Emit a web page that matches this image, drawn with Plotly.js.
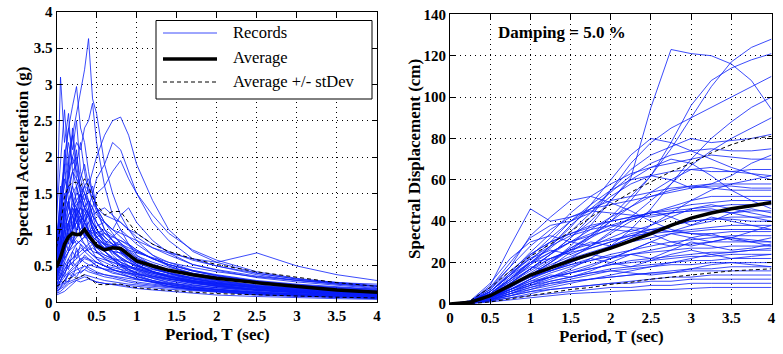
<!DOCTYPE html>
<html>
<head>
<meta charset="utf-8">
<script src="https://cdn.plot.ly/plotly-3.0.1.min.js"></script>
<style>html,body{margin:0;padding:0;background:#fff;}#chart{width:783px;height:354px;}</style>
</head>
<body>
<div id="chart"></div>
<script>
// ---------- DATA ----------
const saPeriods = [0,0.05,0.1,0.15,0.2,0.25,0.3,0.35,0.4,0.45,0.5,0.6,0.7,0.8,0.9,1.0,1.2,1.4,1.7,2.0,2.5,3.0,3.5,4.0];
const saRecords = [
[0.9,1.3,1.6,2.0,2.3,2.6,2.9,3.2,3.63,2.8,2.6,1.9,1.5,1.2,1.0,0.85,0.65,0.5,0.38,0.3,0.22,0.17,0.13,0.1],
[1.0,3.1,2.2,2.6,1.8,1.9,1.5,1.3,1.2,1.0,0.9,0.7,0.6,0.5,0.42,0.36,0.28,0.22,0.17,0.14,0.1,0.08,0.06,0.05],
[0.8,1.2,2.0,2.4,2.7,2.97,2.4,2.2,1.8,1.5,1.3,1.0,0.85,0.7,0.6,0.52,0.42,0.35,0.28,0.22,0.16,0.13,0.1,0.08],
[0.6,0.8,1.0,1.1,1.3,1.4,1.5,1.4,1.6,1.8,2.0,2.3,2.5,2.55,2.3,1.9,1.4,1.0,0.7,0.55,0.4,0.32,0.26,0.22],
[0.5,0.6,0.8,1.0,1.1,1.2,1.3,1.2,1.3,1.5,1.7,1.9,2.2,2.1,1.8,1.5,1.1,0.85,0.6,0.5,0.38,0.3,0.25,0.2],
[0.4,0.5,0.7,0.9,1.0,1.1,1.0,1.1,1.2,1.3,1.5,1.6,1.8,1.95,1.7,1.5,1.2,0.95,0.72,0.58,0.42,0.33,0.27,0.22],
[0.7,1.0,1.4,1.8,2.0,2.2,2.1,2.4,2.5,2.74,2.2,1.6,1.2,1.0,0.8,0.65,0.5,0.4,0.3,0.24,0.17,0.13,0.1,0.08],
[1.2,2.0,2.65,1.9,2.3,1.7,1.6,1.4,1.2,1.1,1.0,0.8,0.65,0.55,0.45,0.38,0.3,0.24,0.18,0.15,0.11,0.09,0.07,0.05],
[0.6,1.5,1.9,2.4,2.1,2.5,1.8,1.6,1.4,1.2,1.1,0.9,0.8,0.75,0.7,0.6,0.48,0.4,0.32,0.27,0.2,0.16,0.13,0.1],
[0.5,0.7,0.9,1.1,1.2,1.3,1.2,1.3,1.4,1.3,1.2,1.1,1.0,0.95,0.9,0.85,0.75,0.68,0.6,0.55,0.68,0.5,0.38,0.3],
[0.45,0.8,1.2,1.4,1.5,1.6,1.7,1.5,1.4,1.3,1.1,0.95,0.85,0.78,0.72,0.68,0.62,0.55,0.48,0.42,0.35,0.3,0.27,0.25],
[0.35,0.5,0.8,1.0,1.2,1.3,1.5,1.6,1.55,1.4,1.3,1.2,1.15,1.1,1.0,0.9,0.75,0.65,0.52,0.45,0.36,0.3,0.25,0.22],
[0.7,1.1,1.7,1.5,1.8,1.6,1.4,1.5,1.3,1.1,1.0,0.85,0.7,0.6,0.5,0.44,0.36,0.3,0.24,0.2,0.15,0.12,0.1,0.08],
[0.3,0.45,0.6,0.7,0.8,0.9,0.95,1.0,1.1,1.2,1.25,1.3,1.2,1.1,1.0,0.95,0.8,0.7,0.58,0.5,0.4,0.32,0.27,0.23],
[0.55,0.9,1.3,1.6,1.4,1.3,1.2,1.1,1.0,0.95,0.9,0.8,0.7,0.62,0.55,0.5,0.42,0.36,0.3,0.26,0.2,0.16,0.13,0.11],
[0.4,0.6,0.8,0.9,1.0,1.1,1.2,1.1,1.0,0.9,0.85,0.75,0.7,0.68,0.64,0.6,0.52,0.45,0.38,0.33,0.26,0.22,0.18,0.15],
[0.25,0.35,0.5,0.6,0.7,0.8,0.85,0.9,0.95,0.9,0.85,0.8,0.78,0.8,0.75,0.7,0.6,0.52,0.44,0.38,0.3,0.25,0.21,0.18],
[0.3,0.5,0.7,0.85,0.9,0.8,0.85,0.8,0.7,0.65,0.6,0.55,0.5,0.48,0.45,0.42,0.36,0.32,0.26,0.22,0.17,0.14,0.12,0.1],
[0.2,0.3,0.45,0.55,0.6,0.7,0.75,0.7,0.65,0.6,0.55,0.5,0.45,0.42,0.4,0.38,0.33,0.29,0.24,0.2,0.16,0.13,0.11,0.09],
[0.15,0.2,0.25,0.3,0.35,0.4,0.42,0.45,0.5,0.52,0.55,0.5,0.45,0.42,0.38,0.35,0.3,0.26,0.21,0.18,0.14,0.11,0.09,0.07],
[0.1,0.12,0.15,0.2,0.25,0.3,0.28,0.3,0.32,0.3,0.28,0.26,0.24,0.22,0.2,0.19,0.17,0.15,0.12,0.1,0.08,0.06,0.05,0.04],
[0.2,0.25,0.3,0.4,0.45,0.5,0.55,0.6,0.58,0.55,0.5,0.45,0.42,0.38,0.35,0.32,0.28,0.24,0.2,0.17,0.13,0.11,0.09,0.08],
[0.6,0.9,1.1,1.3,1.2,1.0,1.1,0.9,0.85,0.8,0.75,0.65,0.6,0.55,0.5,0.46,0.4,0.35,0.29,0.25,0.19,0.15,0.12,0.1],
[0.35,0.5,0.65,0.75,0.85,0.95,0.9,0.8,0.75,0.7,0.68,0.62,0.58,0.52,0.48,0.44,0.38,0.33,0.27,0.23,0.18,0.14,0.12,0.1],
[0.45,0.7,1.0,1.2,1.3,1.1,1.0,0.95,0.9,0.8,0.7,0.6,0.52,0.45,0.4,0.36,0.3,0.25,0.2,0.17,0.13,0.1,0.08,0.07],
[0.25,0.3,0.4,0.5,0.55,0.6,0.65,0.7,0.72,0.75,0.7,0.65,0.6,0.58,0.55,0.5,0.45,0.4,0.34,0.3,0.24,0.2,0.17,0.15],
[0.15,0.18,0.22,0.28,0.3,0.32,0.35,0.38,0.36,0.35,0.33,0.3,0.28,0.26,0.25,0.24,0.22,0.2,0.17,0.15,0.12,0.1,0.08,0.07],
[0.8,1.2,1.5,1.3,1.6,1.4,1.2,1.0,0.95,0.85,0.8,0.7,0.6,0.5,0.45,0.4,0.33,0.28,0.22,0.18,0.14,0.11,0.09,0.07],
[0.5,0.7,0.95,1.1,1.25,1.35,1.4,1.3,1.2,1.1,1.0,0.9,0.8,0.72,0.65,0.58,0.5,0.44,0.36,0.3,0.23,0.19,0.15,0.12],
[0.3,0.35,0.45,0.55,0.6,0.65,0.7,0.75,0.8,0.85,0.9,0.95,0.9,0.85,0.78,0.7,0.6,0.52,0.43,0.36,0.28,0.23,0.19,0.16],
[0.12,0.15,0.2,0.25,0.28,0.3,0.32,0.35,0.33,0.3,0.28,0.26,0.25,0.24,0.23,0.22,0.2,0.18,0.16,0.14,0.11,0.09,0.08,0.07],
[0.65,1.0,1.35,1.6,1.8,1.7,1.5,1.3,1.2,1.05,0.95,0.82,0.7,0.62,0.55,0.48,0.4,0.34,0.27,0.22,0.17,0.14,0.11,0.09],
[0.4,0.55,0.75,0.9,1.05,1.2,1.3,1.25,1.15,1.0,0.9,0.8,0.9,1.0,0.9,0.8,0.65,0.55,0.44,0.37,0.29,0.23,0.19,0.16],
[0.5,0.8,1.05,1.2,1.35,1.5,1.45,1.6,1.7,1.5,1.3,1.1,1.0,1.2,1.3,1.1,0.85,0.68,0.52,0.44,0.34,0.28,0.23,0.19],
[0.2,0.28,0.35,0.42,0.48,0.55,0.6,0.62,0.6,0.58,0.55,0.5,0.48,0.45,0.43,0.4,0.36,0.32,0.28,0.25,0.2,0.17,0.15,0.13],
[0.55,0.85,1.25,1.7,2.0,1.8,1.6,1.5,1.35,1.2,1.1,0.95,0.85,0.75,0.65,0.58,0.48,0.4,0.32,0.27,0.2,0.16,0.13,0.11],
[0.35,0.5,0.6,0.7,0.75,0.8,0.85,0.9,0.88,0.85,0.8,0.75,0.78,0.85,0.8,0.72,0.6,0.5,0.4,0.34,0.26,0.21,0.17,0.14],
[0.9,1.4,1.8,2.2,1.9,2.0,1.7,1.9,1.6,1.4,1.25,1.0,0.85,0.7,0.6,0.52,0.42,0.35,0.28,0.23,0.17,0.14,0.11,0.09],
[0.28,0.4,0.55,0.7,0.8,0.85,0.8,0.75,0.7,0.65,0.62,0.58,0.55,0.52,0.5,0.47,0.42,0.38,0.32,0.28,0.22,0.18,0.15,0.13],
[0.18,0.22,0.3,0.38,0.42,0.45,0.48,0.5,0.48,0.45,0.42,0.38,0.35,0.32,0.3,0.28,0.25,0.22,0.19,0.16,0.13,0.11,0.09,0.08],
[0.3,0.9,0.6,1.1,0.8,1.3,0.9,1.0,0.8,0.7,0.6,0.5,0.45,0.4,0.36,0.32,0.27,0.22,0.18,0.15,0.11,0.09,0.07,0.06],
[0.4,0.7,1.3,0.9,1.5,1.1,1.2,0.9,1.0,0.8,0.75,0.7,0.62,0.55,0.5,0.46,0.38,0.32,0.26,0.22,0.17,0.14,0.11,0.09],
[0.2,0.4,0.35,0.6,0.5,0.75,0.55,0.65,0.6,0.55,0.5,0.45,0.4,0.38,0.35,0.33,0.28,0.25,0.2,0.17,0.13,0.11,0.09,0.08],
[0.6,1.6,1.0,1.9,1.4,1.2,1.5,1.0,1.1,0.9,0.85,0.7,0.6,0.52,0.46,0.4,0.33,0.27,0.21,0.18,0.13,0.1,0.08,0.07],
[0.35,0.6,0.9,0.7,1.0,1.2,0.9,1.1,1.25,1.0,0.95,0.85,0.8,0.7,0.62,0.55,0.46,0.4,0.33,0.28,0.22,0.18,0.15,0.13],
[0.25,0.35,0.55,0.45,0.7,0.6,0.8,0.7,0.75,0.8,0.7,0.6,0.55,0.5,0.48,0.45,0.4,0.36,0.3,0.26,0.21,0.17,0.14,0.12],
[0.5,1.1,0.8,1.4,1.0,1.6,1.3,1.1,1.3,1.1,1.0,0.85,0.75,0.66,0.58,0.5,0.42,0.36,0.29,0.24,0.18,0.15,0.12,0.1],
[0.15,0.3,0.25,0.4,0.35,0.5,0.4,0.45,0.42,0.4,0.38,0.35,0.33,0.3,0.28,0.26,0.23,0.21,0.18,0.16,0.13,0.11,0.1,0.09],
[0.45,0.55,1.0,0.8,1.2,0.95,1.4,1.1,0.95,1.05,0.9,0.78,0.7,0.68,0.6,0.54,0.46,0.4,0.34,0.29,0.23,0.19,0.16,0.14],
[0.8,1.0,1.9,1.4,1.6,2.1,1.5,1.3,1.4,1.2,1.0,0.9,0.8,0.7,0.6,0.52,0.43,0.36,0.29,0.24,0.18,0.15,0.12,0.1],
[0.3,0.45,0.7,0.95,0.8,1.0,1.15,0.9,1.0,0.9,0.95,1.0,0.92,0.82,0.72,0.64,0.55,0.48,0.4,0.35,0.28,0.24,0.2,0.18],
[0.55,0.75,1.15,1.4,1.0,1.3,1.1,1.2,0.95,1.0,0.85,0.75,0.68,0.6,0.55,0.5,0.42,0.37,0.3,0.26,0.21,0.17,0.14,0.12],
[0.12,0.2,0.3,0.28,0.4,0.35,0.45,0.5,0.45,0.42,0.4,0.38,0.36,0.35,0.33,0.31,0.28,0.26,0.23,0.2,0.17,0.15,0.13,0.12],
[0.7,1.2,2.1,1.7,2.4,1.9,2.2,1.8,1.5,1.6,1.3,1.1,0.95,0.8,0.7,0.62,0.5,0.42,0.33,0.27,0.2,0.16,0.13,0.11],
[0.4,0.65,0.85,1.05,1.3,1.2,1.1,1.3,1.0,0.95,1.05,1.1,1.0,0.9,0.8,0.72,0.6,0.52,0.43,0.37,0.29,0.24,0.2,0.17],
[0.2,0.3,0.4,0.5,0.55,0.5,0.6,0.55,0.52,0.5,0.48,0.46,0.44,0.42,0.4,0.38,0.35,0.32,0.28,0.25,0.21,0.19,0.17,0.16]
];
const saAverage = [0.48,0.62,0.8,0.9,0.95,0.93,0.94,1.0,0.92,0.84,0.78,0.72,0.75,0.74,0.66,0.57,0.5,0.44,0.38,0.33,0.27,0.22,0.17,0.14];
const saUpper   = [0.75,1.05,1.45,1.6,1.65,1.65,1.6,1.7,1.6,1.45,1.35,1.2,1.25,1.25,1.1,0.95,0.8,0.7,0.6,0.52,0.42,0.34,0.27,0.22];
const saLower   = [0.22,0.25,0.3,0.32,0.35,0.33,0.35,0.38,0.33,0.3,0.25,0.24,0.25,0.25,0.22,0.2,0.18,0.16,0.14,0.12,0.1,0.08,0.07,0.06];

const sdPeriods = [0,0.25,0.5,0.75,1.0,1.25,1.5,1.75,2.0,2.25,2.5,2.75,3.0,3.25,3.5,3.75,4.0];
const sdRecords = [
[0,0.5,3,8,14,20,28,38,50,61,95,123,121,120,116,108,94],
[0,1,9,28,46,40,42,45,44,43,42,44,45,46,44,42,40],
[0,1,7,18,33,42,50,52,49,45,40,36,34,33,32,31,30],
[0,0.5,3,8,14,20,26,33,42,52,62,75,90,105,117,124,128],
[0,0.5,2.5,7,12,18,25,32,40,50,62,78,96,108,114,118,121],
[0,0.8,4,10,17,24,32,42,55,68,78,85,90,95,100,105,110],
[0,0.6,3,7,12,17,22,28,35,42,50,58,67,74,80,85,90],
[0,1,5,12,20,27,35,44,55,65,72,76,80,78,79,80,82],
[0,0.7,4,11,19,28,38,46,54,62,68,72,74,75,74,74,75],
[0,1.2,6,15,25,34,44,52,58,63,66,68,70,72,71,70,70],
[0,0.8,5,12,21,30,40,48,55,60,62,64,65,64,64,65,65],
[0,0.5,3,8,14,20,27,33,40,47,54,60,65,66,64,63,62],
[0,1,6,14,23,32,40,46,50,52,54,56,57,58,58,58,58],
[0,0.6,4,10,17,24,30,36,42,47,52,55,57,56,55,55,55],
[0,1,6,14,24,30,34,38,40,42,44,47,50,52,52,52,52],
[0,0.6,3.5,9,15,21,27,32,37,41,44,46,48,49,50,50,50],
[0,0.9,5,12,19,25,30,34,38,41,43,44,45,45,44,45,45],
[0,0.7,4,9,14,19,23,27,30,33,36,38,40,41,42,42,42],
[0,0.5,3,7,12,16,20,24,28,32,35,38,40,41,41,40,40],
[0,1,5,11,17,22,26,29,31,33,34,35,36,37,38,38,38],
[0,0.8,4,9,14,18,22,25,28,30,32,34,35,36,36,36,36],
[0,0.6,3,7,11,15,18,21,24,26,28,30,31,32,33,33,33],
[0,0.5,3,6,10,13,16,19,22,24,26,28,29,30,30,30,30],
[0,0.9,4,9,13,16,19,21,23,24,25,26,27,27,28,28,28],
[0,0.5,2.5,6,9,12,15,17,19,21,22,23,24,25,25,26,26],
[0,0.7,3.5,7,10,13,15,17,19,20,21,22,23,23,24,24,24],
[0,0.4,2,5,8,11,13,15,17,18,19,20,21,21,22,22,22],
[0,0.6,3,6,9,11,13,15,16,17,18,19,19,20,20,20,20],
[0,0.4,2,4,6,8,10,12,13,14,15,16,17,17,18,18,18],
[0,0.5,2.5,5,7,9,11,12,13,14,15,15,16,16,16,16,16],
[0,0.3,1.5,3,5,7,8,9,10,11,12,13,13,14,14,14,14],
[0,0.4,2,4,6,7,8,9,10,10,11,11,12,12,12,12,12],
[0,0.3,1.5,3,4,5,6,7,8,8,9,9,10,10,10,10,10],
[0,0.2,1,2,3,4,5,5.5,6,6.5,7,7,7.5,8,8,8,8],
[0,1,5,12,20,28,37,48,60,72,80,78,74,70,66,63,60],
[0,0.8,4,10,17,24,32,40,50,60,66,70,68,62,55,50,46],
[0,1.5,8,18,28,36,42,46,48,50,52,54,56,57,57,56,56],
[0,1.2,7,16,24,30,34,37,40,42,44,45,46,47,48,48,48],
[0,1,6,14,22,28,33,36,38,37,36,35,34,34,35,35,35],
[0,0.4,2,5,9,13,17,22,28,36,46,58,70,80,88,95,100],
[0,0.6,4,12,18,16,20,24,22,26,30,28,32,34,31,30,32],
[0,1.5,10,22,30,33,30,28,32,36,34,30,28,30,32,30,28],
[0,0.4,2,6,10,14,13,16,20,24,22,26,30,28,26,27,29],
[0,1,6,15,22,26,24,28,34,40,45,42,38,40,44,46,44],
[0,0.5,3,8,13,16,19,22,20,18,21,24,26,24,22,23,24],
[0,0.8,5,13,20,25,30,33,36,35,38,42,46,48,46,44,42],
[0,0.3,1.5,4,7,10,12,14,16,15,14,15,17,19,20,19,18],
[0,1,6,14,20,22,26,30,28,32,38,44,50,55,58,60,62],
[0,0.5,3,7,11,13,15,18,22,26,30,34,32,30,32,35,38],
[0,0.7,4,10,16,22,25,27,30,34,36,35,38,42,40,38,36],
[0,0.4,2,5,8,10,11,12,14,16,18,20,22,24,25,26,27],
[0,1.2,8,20,32,38,40,44,52,58,62,60,56,58,62,68,72]
];
const sdAverage = [0,0.8,4,9,14,17.5,21,24,27,30.5,34,38,41.5,44,46,47.5,49];
const sdUpper   = [0,1.5,8,16,23,29,35,42,48,54,59,64,68,73,77,80,81];
const sdLower   = [0,0.2,1,2.5,4,5.5,7,8,9.5,10.5,12,13,14,15,16,16.5,17];

const periodTicks = [0,0.5,1,1.5,2,2.5,3,3.5,4];
const saTicks = [0,0.5,1,1.5,2,2.5,3,3.5,4];
const sdTicks = [0,20,40,60,80,100,120,140];
const legendLabels = ['Records','Average','Average +/- stDev'];
const dampingLabel = 'Damping = 5.0 %';

// ---------- STYLE ----------
const W = 783, H = 354;
const px = v => v / W;
const py = v => 1 - v / H;
const recColor = 'rgb(10,30,250)';
const serif = 'Liberation Serif, Times New Roman, serif';

const traces = [];
saRecords.forEach(r => traces.push({x: saPeriods, y: r, xaxis:'x', yaxis:'y', mode:'lines', line:{color:recColor, width:0.8}, showlegend:false}));
[saUpper, saLower].forEach(r => traces.push({x: saPeriods, y: r, xaxis:'x', yaxis:'y', mode:'lines', line:{color:'black', width:1, dash:'4px,3px'}, showlegend:false}));
traces.push({x: saPeriods, y: saAverage, xaxis:'x', yaxis:'y', mode:'lines', line:{color:'black', width:3.5}, showlegend:false});

sdRecords.forEach(r => traces.push({x: sdPeriods, y: r, xaxis:'x2', yaxis:'y2', mode:'lines', line:{color:recColor, width:0.8}, showlegend:false}));
[sdUpper, sdLower].forEach(r => traces.push({x: sdPeriods, y: r, xaxis:'x2', yaxis:'y2', mode:'lines', line:{color:'black', width:1, dash:'4px,3px'}, showlegend:false}));
traces.push({x: sdPeriods, y: sdAverage, xaxis:'x2', yaxis:'y2', mode:'lines', line:{color:'black', width:3.5}, showlegend:false});

const tickFont = {family: serif, size: 15, color: 'black', weight: 'bold'};
const titleFont = {family: serif, size: 17, color: 'black', weight: 'bold'};
const legendFont = {family: serif, size: 16.5, color: 'black'};
function axis(domain, range, ticks, anchor) {
  return {
    domain: domain, range: range, anchor: anchor,
    tickmode: 'array', tickvals: ticks, ticktext: ticks.map(String),
    ticks: 'inside', ticklen: 5, tickcolor: 'black', tickwidth: 1,
    showline: true, linecolor: 'black', linewidth: 1, mirror: 'allticks',
    showgrid: true, gridcolor: 'black', gridwidth: 1, griddash: '1px,4px',
    zeroline: false, tickfont: tickFont, fixedrange: true
  };
}

const layout = {
  width: W, height: H,
  margin: {l:0, r:0, t:0, b:0},
  paper_bgcolor: 'white', plot_bgcolor: 'white',
  showlegend: false,
  xaxis: axis([px(56.5), px(377)], [0,4], periodTicks, 'y'),
  yaxis: axis([py(302.3), py(11.7)], [0,4], saTicks, 'x'),
  xaxis2: axis([px(450), px(771.5)], [0,4], periodTicks, 'y2'),
  yaxis2: axis([py(304), py(14.3)], [0,140], sdTicks, 'x2'),
  shapes: [
    {type:'rect', xref:'paper', yref:'paper', x0:px(156), x1:px(372), y0:py(99), y1:py(20.5), line:{color:'black', width:1}, fillcolor:'white', layer:'above'},
    {type:'line', xref:'paper', yref:'paper', x0:px(163), x1:px(217), y0:py(33), y1:py(33), line:{color:recColor, width:0.8}, layer:'above'},
    {type:'line', xref:'paper', yref:'paper', x0:px(163), x1:px(217), y0:py(59), y1:py(59), line:{color:'black', width:3.5}, layer:'above'},
    {type:'line', xref:'paper', yref:'paper', x0:px(163), x1:px(217), y0:py(82), y1:py(82), line:{color:'black', width:1, dash:'4px,3px'}, layer:'above'}
  ],
  annotations: [
    {text: legendLabels[0], xref:'paper', yref:'paper', x:px(231), y:py(33), xanchor:'left', yanchor:'middle', showarrow:false, font:legendFont},
    {text: legendLabels[1], xref:'paper', yref:'paper', x:px(231), y:py(58), xanchor:'left', yanchor:'middle', showarrow:false, font:legendFont},
    {text: legendLabels[2], xref:'paper', yref:'paper', x:px(231), y:py(82), xanchor:'left', yanchor:'middle', showarrow:false, font:legendFont},
    {text: dampingLabel, xref:'paper', yref:'paper', x:px(496), y:py(33), xanchor:'left', yanchor:'middle', showarrow:false, font:titleFont},
    {text: 'Period, T (sec)', xref:'paper', yref:'paper', x:px(217), y:py(334), xanchor:'center', yanchor:'middle', showarrow:false, font:titleFont},
    {text: 'Period, T (sec)', xref:'paper', yref:'paper', x:px(611), y:py(336), xanchor:'center', yanchor:'middle', showarrow:false, font:titleFont},
    {text: 'Spectral Acceleration (g)', xref:'paper', yref:'paper', x:px(22), y:py(157), xanchor:'center', yanchor:'middle', textangle:-90, showarrow:false, font:titleFont},
    {text: 'Spectral Displacement (cm)', xref:'paper', yref:'paper', x:px(414), y:py(159), xanchor:'center', yanchor:'middle', textangle:-90, showarrow:false, font:titleFont}
  ]
};

Plotly.newPlot('chart', traces, layout, {staticPlot: true, displayModeBar: false});
</script>
</body>
</html>
